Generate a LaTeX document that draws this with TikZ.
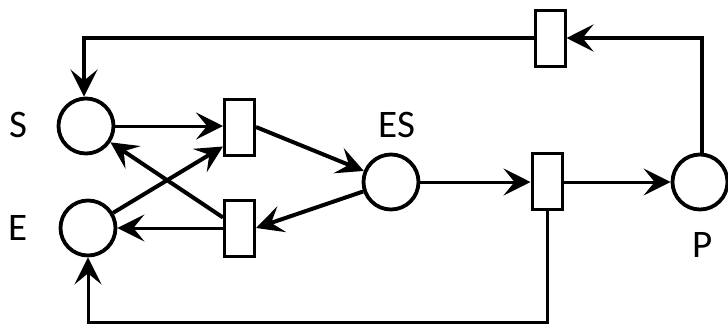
\documentclass[tikz,border=0pt]{standalone}
\usepackage{fontspec}
\setmainfont{Carlito}
\usetikzlibrary{arrows.meta}
\begin{document}
\begin{tikzpicture}[x=1pt,y=-1pt,
  place/.style={circle,draw,line width=3.8pt,minimum size=55pt,inner sep=0pt},
  trans/.style={rectangle,draw,line width=3pt,minimum width=30pt,minimum height=56pt,inner sep=0pt},
  lbl/.style={font=\fontsize{39}{41}\selectfont,inner sep=0pt},
  tip/.style={-{Stealth[length=27pt,width=27pt,inset=11pt]}},
  arc/.style={tip,line width=3pt},
  arcb/.style={tip,line width=4pt}]
\useasboundingbox (0,0) rectangle (728,325);
\node[place] (S) at (86,126) {};
\node[place] (E) at (88,228) {};
\node[place] (ES) at (391,182) {};
\node[place] (P) at (700,182) {};
\node[trans] (T1) at (239.5,127) {};
\node[trans] (T2) at (239.5,228) {};
\node[trans] (T3) at (547,181) {};
\node[trans] (T4) at (550,38) {};
\node[lbl] (lS) at (18,125) {S};
\node[lbl] (lE) at (18,228) {E};
\node[lbl] (lES) at (397,125) {ES};
\node[lbl] (lP) at (703,245) {P};
\coordinate (c1) at (84,38);
\coordinate (c2) at (702,38);
\coordinate (c3) at (547,322);
\coordinate (c4) at (88,322);
% arcs
\draw[arc] (S.east) -- (T1.west |- S.east);
\draw[arcb] (T1.east) -- (ES);
\draw[arcb] (ES) -- (T2.east);
\draw[arc] (T2.west) -- (E.east);
\draw[arcb] (E) -- ([yshift=10pt]T1.south west);
\draw[arcb] ([yshift=-19pt]T2.north west) -- (S);
\draw[arc] (ES.east) -- (T3.west |- ES.east);
\draw[arc] (T3.east |- P.west) -- (P.west);
\draw[arcb] (P.north -| c2) -- (c2) -- (T4.east);
\draw[arcb] (T4.west) -- (c1) -- (S.north -| c1);
\draw[arc] (T3.south) -- (c3) -- (c4) -- (E.south);
\end{tikzpicture}
\end{document}
